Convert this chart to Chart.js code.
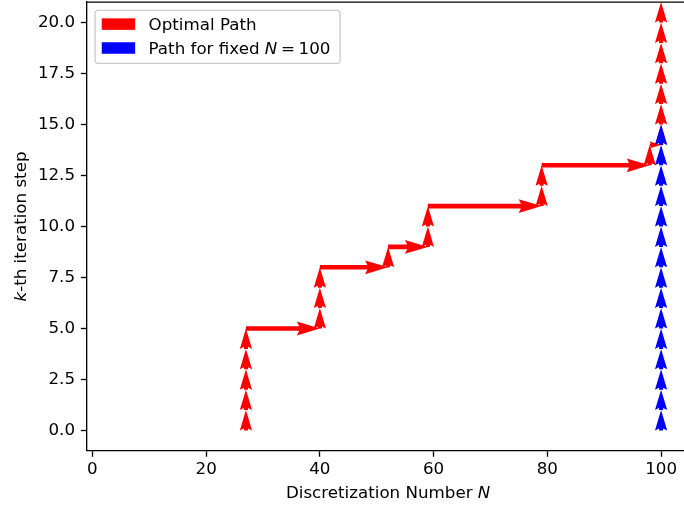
<!DOCTYPE html>
<html>
<head>
<meta charset="utf-8">
<script src="https://cdn.jsdelivr.net/npm/chart.js@4/dist/chart.umd.min.js"></script>
<style>
  html, body { margin: 0; padding: 0; background: #ffffff; overflow: hidden; }
  #wrap { position: absolute; left: 0; top: 0; width: 684px; height: 509px; }
</style>
</head>
<body>
<div id="wrap"><canvas id="chart" width="684" height="509"></canvas></div>
<script>
// Path taken by the adaptive scheme: (discretization number N, iteration k)
const optimalN = [27, 27, 27, 27, 27, 27, 40, 40, 40, 40, 52, 52, 59, 59, 59, 79, 79, 79, 98, 98, 100, 100, 100, 100, 100, 100, 100, 100];
const optimalK = [0, 1, 2, 3, 4, 5, 5, 6, 7, 8, 8, 9, 9, 10, 11, 11, 12, 13, 13, 14, 14, 15, 16, 17, 18, 19, 20, 21];

// Path with the discretization held at N = 100
const fixedN = [100, 100, 100, 100, 100, 100, 100, 100, 100, 100, 100, 100, 100, 100, 100, 100];
const fixedK = [0, 1, 2, 3, 4, 5, 6, 7, 8, 9, 10, 11, 12, 13, 14, 15];

const xTickValues = [0, 20, 40, 60, 80, 100];
const yTickValues = [0, 2.5, 5, 7.5, 10, 12.5, 15, 17.5, 20];

// Full x range of the axes is -1..105; the visible part ends a little past 104
const xRange = [-1, 105];
const xVisibleMax = 104.03;

// Legend / axis text, split into regular and italic runs
const legendParts = [
  [{ t: 'Optimal Path' }],
  [{ t: 'Path for fixed ' }, { t: 'N', i: true }, { t: '=', gap: true }, { t: '100' }]
];
const xTitleParts = [{ t: 'Discretization Number ' }, { t: 'N', i: true }];
const yTitleParts = [{ t: 'k', i: true }, { t: '-th iteration step' }];

const FS = 16.7;
const FONT = FS + 'px "DejaVu Sans"';
const IFONT = 'italic ' + FS + 'px "DejaVu Sans"';

function toPoints(xs, ys) { return xs.map((v, i) => ({ x: v, y: ys[i] })); }

// quiver-style arrow: shaft width w, head length 5w, head width 3w, head axis 4.5w
function drawArrow(ctx, x0, y0, x1, y1, w) {
  const dx = x1 - x0, dy = y1 - y0;
  const L = Math.hypot(dx, dy);
  if (L < 0.5) return;
  const hl = 5 * w, hal = 4.5 * w, hw = 1.5 * w, sw = 0.5 * w;
  let pts;
  if (L >= hl) {
    pts = [[0, sw], [L - hal, sw], [L - hl, hw], [L, 0], [L - hl, -hw], [L - hal, -sw], [0, -sw]];
  } else {
    const s = L / hl;
    pts = [[0, sw * s], [(hl - hal) * s, sw * s], [0, hw * s], [L, 0], [0, -hw * s], [(hl - hal) * s, -sw * s], [0, -sw * s]];
  }
  const c = dx / L, sn = dy / L;
  ctx.beginPath();
  pts.forEach((p, i) => {
    const px = x0 + p[0] * c - p[1] * sn;
    const py = y0 + p[0] * sn + p[1] * c;
    if (i === 0) ctx.moveTo(px, py); else ctx.lineTo(px, py);
  });
  ctx.closePath();
  ctx.fill();
}

function partsWidth(ctx, parts) {
  let w = 0;
  parts.forEach(p => {
    ctx.font = p.i ? IFONT : FONT;
    w += ctx.measureText(p.t).width + (p.gap ? FS * 0.44 : 0);
  });
  return w;
}

function drawParts(ctx, parts, x, y) {
  let cx = x;
  parts.forEach(p => {
    ctx.font = p.i ? IFONT : FONT;
    if (p.gap) cx += FS * 0.22;
    ctx.fillText(p.t, cx, y);
    cx += ctx.measureText(p.t).width + (p.gap ? FS * 0.22 : 0);
  });
}

const quiverPlugin = {
  id: 'quiverArrows',
  afterDatasetsDraw(chart) {
    const { ctx, chartArea: a, scales: { x, y } } = chart;
    ctx.save();
    ctx.beginPath();
    ctx.rect(a.left, a.top, a.right - a.left, a.bottom - a.top);
    ctx.clip();
    chart.data.datasets.forEach(ds => {
      ctx.fillStyle = ds.backgroundColor;
      for (let i = 0; i < ds.data.length - 1; i++) {
        const p = ds.data[i], q = ds.data[i + 1];
        drawArrow(ctx,
          x.getPixelForValue(p.x), y.getPixelForValue(p.y),
          x.getPixelForValue(q.x), y.getPixelForValue(q.y), 4.6);
      }
    });
    ctx.restore();
  },
  afterDraw(chart) {
    const { ctx, chartArea: a, scales: { x } } = chart;
    ctx.save();
    // top spine
    ctx.strokeStyle = '#000000';
    ctx.lineWidth = 1.33;
    ctx.beginPath();
    ctx.moveTo(a.left, a.top); ctx.lineTo(a.right, a.top);
    ctx.stroke();

    // axis titles (x title centred on the full -1..105 range)
    ctx.fillStyle = '#000000';
    ctx.textBaseline = 'alphabetic';
    ctx.textAlign = 'left';
    const xMid = x.getPixelForValue((xRange[0] + xRange[1]) / 2);
    const xw = partsWidth(ctx, xTitleParts);
    drawParts(ctx, xTitleParts, xMid - xw / 2, 498.3);
    ctx.save();
    ctx.translate(25.5, (a.top + a.bottom) / 2);
    ctx.rotate(-Math.PI / 2);
    const yw = partsWidth(ctx, yTitleParts);
    drawParts(ctx, yTitleParts, -yw / 2, 0);
    ctx.restore();

    // legend
    const bx = a.left + 8.35, by = a.top + 8.35;
    let maxW = 0;
    legendParts.forEach(p => { maxW = Math.max(maxW, partsWidth(ctx, p)); });
    const bw = 6.7 + 33.4 + 13.4 + maxW + 6.7 + 3;
    const bh = 53;
    const r = 3.5;
    ctx.beginPath();
    ctx.moveTo(bx + r, by);
    ctx.lineTo(bx + bw - r, by); ctx.quadraticCurveTo(bx + bw, by, bx + bw, by + r);
    ctx.lineTo(bx + bw, by + bh - r); ctx.quadraticCurveTo(bx + bw, by + bh, bx + bw - r, by + bh);
    ctx.lineTo(bx + r, by + bh); ctx.quadraticCurveTo(bx, by + bh, bx, by + bh - r);
    ctx.lineTo(bx, by + r); ctx.quadraticCurveTo(bx, by, bx + r, by);
    ctx.closePath();
    ctx.fillStyle = 'rgba(255,255,255,0.8)';
    ctx.fill();
    ctx.strokeStyle = '#cccccc';
    ctx.lineWidth = 1.33;
    ctx.stroke();
    chart.data.datasets.forEach((ds, i) => {
      const base = by + 19.4 + i * 23.9;
      ctx.fillStyle = ds.backgroundColor;
      ctx.fillRect(bx + 6.7, base - 11.5, 33.4, 11.5);
      ctx.fillStyle = '#000000';
      drawParts(ctx, legendParts[i], bx + 6.7 + 33.4 + 13.4, base);
    });
    ctx.restore();
  }
};

const tickFont = { family: 'DejaVu Sans', size: FS };

new Chart(document.getElementById('chart'), {
  type: 'scatter',
  data: {
    datasets: [
      { label: 'Optimal Path', data: toPoints(optimalN, optimalK), backgroundColor: '#ff0000', borderColor: '#ff0000', pointRadius: 0, showLine: false },
      { label: 'Path for fixed N = 100', data: toPoints(fixedN, fixedK), backgroundColor: '#0000ff', borderColor: '#0000ff', pointRadius: 0, showLine: false }
    ]
  },
  options: {
    responsive: false,
    devicePixelRatio: 1,
    animation: false,
    events: [],
    layout: { padding: { top: 2.1, right: 0, bottom: 0, left: 0 } },
    plugins: { legend: { display: false }, tooltip: { enabled: false }, title: { display: false } },
    scales: {
      x: {
        type: 'linear', min: xRange[0], max: xVisibleMax,
        afterFit(s) { s.height = 58.1; s.paddingLeft = 0; s.paddingRight = 0; },
        afterBuildTicks(s) { s.ticks = xTickValues.map(v => ({ value: v })); },
        ticks: { font: tickFont, color: '#000000', padding: 3.3, maxRotation: 0, autoSkip: false, callback: v => String(v) },
        grid: { drawOnChartArea: false, drawTicks: true, tickLength: 5.83, tickWidth: 1.33, tickColor: '#000000' },
        border: { display: true, color: '#000000', width: 1.33 }
      },
      y: {
        type: 'linear', min: -1, max: 21,
        afterFit(s) { s.width = 86.7; s.paddingTop = 0; s.paddingBottom = 0; },
        afterBuildTicks(s) { s.ticks = yTickValues.map(v => ({ value: v })); },
        ticks: { font: tickFont, color: '#000000', padding: 5.83, autoSkip: false, callback: v => Number(v).toFixed(1) },
        grid: { drawOnChartArea: false, drawTicks: true, tickLength: 5.83, tickWidth: 1.33, tickColor: '#000000' },
        border: { display: true, color: '#000000', width: 1.33 }
      }
    }
  },
  plugins: [quiverPlugin]
});
</script>
</body>
</html>
